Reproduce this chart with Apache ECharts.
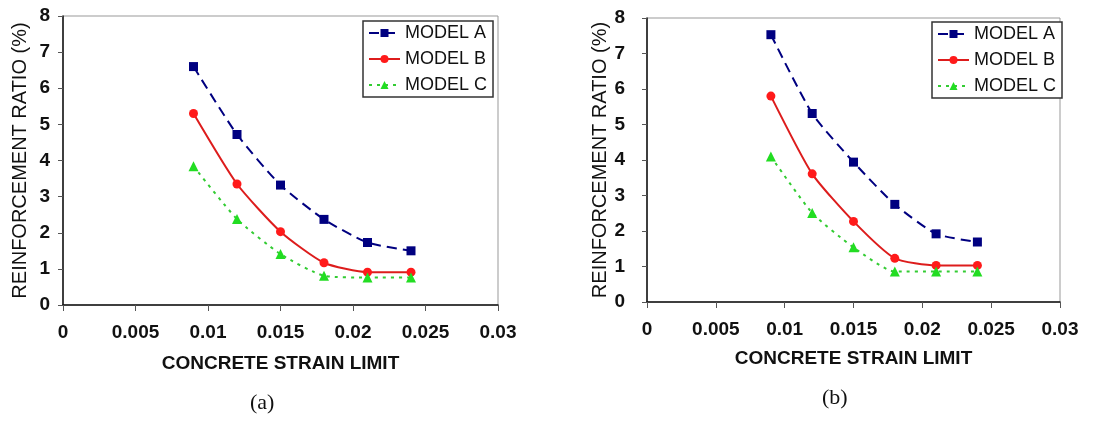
<!DOCTYPE html>
<html>
<head>
<meta charset="utf-8">
<script src="https://cdn.jsdelivr.net/npm/echarts@6/dist/echarts.min.js"></script>
<style>
html,body{margin:0;padding:0;background:#fff;}
#c{width:1104px;height:421px;}
</style>
</head>
<body>
<div id="c"></div>
<script>
// ---- data ----
const strain = [0.009, 0.012, 0.015, 0.018, 0.021, 0.024];
const seriesNames = ['MODEL A', 'MODEL B', 'MODEL C'];
// panel (a)
const aModelA = [6.6, 4.72, 3.32, 2.37, 1.73, 1.5];
const aModelB = [5.3, 3.35, 2.03, 1.17, 0.91, 0.91];
const aModelC = [3.84, 2.38, 1.41, 0.81, 0.76, 0.76];
// panel (b)
const bModelA = [7.53, 5.31, 3.94, 2.75, 1.92, 1.69];
const bModelB = [5.8, 3.61, 2.27, 1.23, 1.03, 1.03];
const bModelC = [4.1, 2.51, 1.54, 0.86, 0.86, 0.86];
// ticks / labels
const xTickLabels = ['0', '0.005', '0.01', '0.015', '0.02', '0.025', '0.03'];
const yTickLabels = ['0', '1', '2', '3', '4', '5', '6', '7', '8'];
const xTitle = 'CONCRETE STRAIN LIMIT';
const yTitle = 'REINFORCEMENT RATIO (%)';
const captions = ['(a)', '(b)'];

const FONT = "'Liberation Sans', Arial, sans-serif";
const pair = vals => strain.map((x, i) => [x, vals[i]]);

const styles = [
  { line: { color: '#000080', width: 2, type: [10, 6] }, symbol: 'rect', size: 9, item: '#000080' },
  { line: { color: '#dd1c1c', width: 2, type: 'solid' }, symbol: 'circle', size: 9, item: '#ff1a1a' },
  { line: { color: '#33cc33', width: 2, type: [3, 5] }, symbol: 'triangle', size: 10, item: '#22dd22' }
];

function mkX(idx, gap, margin) {
  return {
    type: 'value', gridIndex: idx, min: 0, max: 0.03, interval: 0.005,
    name: xTitle, nameLocation: 'middle', nameGap: gap,
    nameTextStyle: { fontFamily: FONT, fontWeight: 'bold', fontSize: 19, color: '#111' },
    axisLine: { show: true, onZero: false, lineStyle: { color: '#111', width: 1.5 } },
    axisTick: { show: true, length: 6, lineStyle: { color: '#555' } },
    axisLabel: { margin: margin, fontFamily: FONT, fontWeight: 'bold', fontSize: 19, color: '#111',
      formatter: (v, i) => xTickLabels[Math.round(v / 0.005)] },
    splitLine: { show: false }
  };
}
function mkY(idx, gap, margin) {
  return {
    type: 'value', gridIndex: idx, min: 0, max: 8, interval: 1,
    name: yTitle, nameLocation: 'middle', nameGap: gap, nameRotate: 90,
    nameTextStyle: { fontFamily: FONT, fontSize: 20, color: '#111' },
    axisLine: { show: true, lineStyle: { color: '#111', width: 1.5 } },
    axisTick: { show: true, length: 5, lineStyle: { color: '#555' } },
    axisLabel: { margin: margin, fontFamily: FONT, fontWeight: 'bold', fontSize: 19, color: '#111',
      formatter: (v) => yTickLabels[Math.round(v)] },
    splitLine: { show: false }
  };
}
function mkSeries(name, vals, k, idx) {
  const s = styles[k];
  return {
    name: name, type: 'line', xAxisIndex: idx, yAxisIndex: idx,
    data: pair(vals), smooth: 0.2,
    symbol: s.symbol, symbolSize: s.size, showSymbol: true,
    lineStyle: s.line, itemStyle: { color: s.item },
    emphasis: { disabled: true }
  };
}
function mkLegend(left, top) {
  return {
    data: seriesNames, orient: 'vertical', left: left, top: top,
    itemWidth: 31, itemHeight: 10, itemGap: 8,
    padding: [3, 6, 3, 5], borderColor: '#333', borderWidth: 1.5, backgroundColor: '#fff',
    textStyle: { fontFamily: FONT, fontSize: 18, color: '#111', lineHeight: 18, padding: [0, 0, 0, 0] },
    selectedMode: false
  };
}

const chart = echarts.init(document.getElementById('c'), null, { renderer: 'canvas' });
chart.setOption({
  animation: false,
  backgroundColor: '#fff',
  grid: [
    { left: 63, top: 16, width: 435, height: 289, show: true, borderColor: '#999', borderWidth: 1 },
    { left: 647, top: 18, width: 413, height: 284, show: true, borderColor: '#999', borderWidth: 1 }
  ],
  xAxis: [mkX(0, 49, 18), mkX(1, 47, 18)],
  yAxis: [mkY(0, 33, 13), mkY(1, 29, 22)],
  legend: [mkLegend(363, 21), mkLegend(932, 22)],
  series: [
    mkSeries(seriesNames[0], aModelA, 0, 0),
    mkSeries(seriesNames[1], aModelB, 1, 0),
    mkSeries(seriesNames[2], aModelC, 2, 0),
    mkSeries(seriesNames[0], bModelA, 0, 1),
    mkSeries(seriesNames[1], bModelB, 1, 1),
    mkSeries(seriesNames[2], bModelC, 2, 1)
  ],
  graphic: [
    { type: 'text', left: 250, top: 392, style: { text: captions[0], font: "22px 'Liberation Serif', 'Times New Roman', serif", fill: '#111' } },
    { type: 'text', left: 822, top: 387, style: { text: captions[1], font: "22px 'Liberation Serif', 'Times New Roman', serif", fill: '#111' } }
  ]
});
</script>
</body>
</html>
